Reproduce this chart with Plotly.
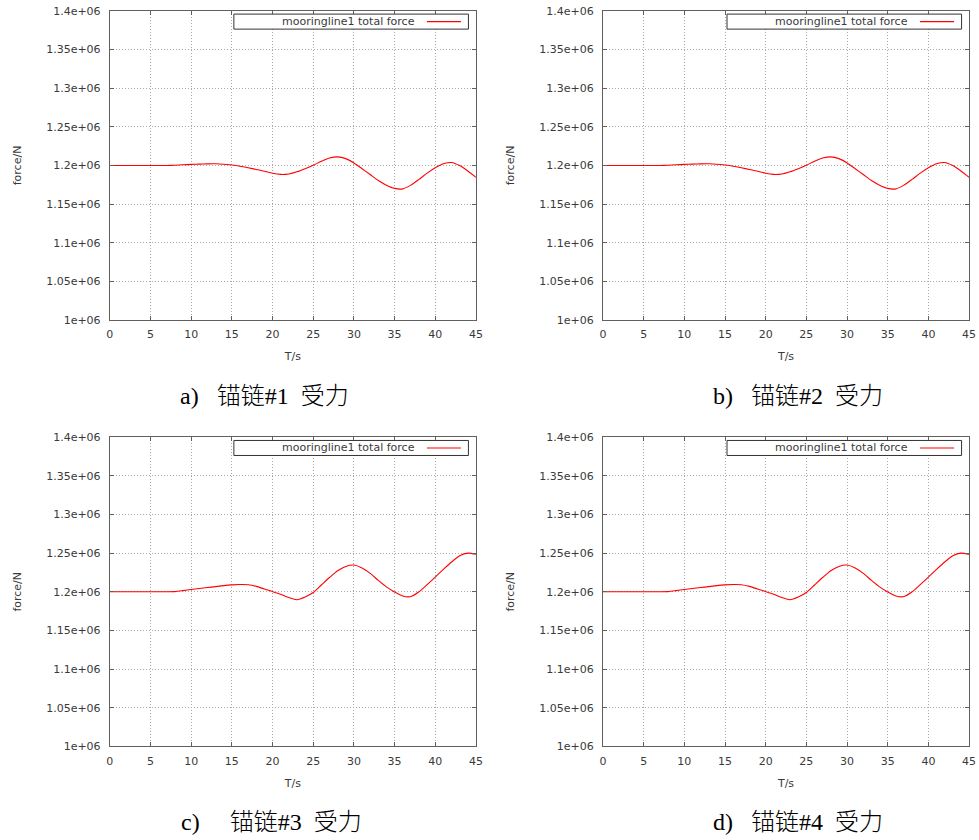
import plotly.graph_objects as go

# ---------------- data ----------------
time_s = list(range(0, 46))

force_line1 = [1200000, 1200000, 1200000, 1200000, 1200000, 1200000, 1200000, 1200000,
               1200300, 1200800, 1201300, 1201700, 1202000, 1202100, 1201600, 1200500,
               1199000, 1197000, 1194800, 1192500, 1189800, 1188400, 1189000, 1191800,
               1195800, 1200200, 1205500, 1209500, 1211100, 1208800, 1203200, 1195800,
               1188200, 1180500, 1174500, 1170300, 1169700, 1174500, 1182000, 1190000,
               1197000, 1202200, 1203800, 1199800, 1192800, 1184500]

force_line2 = [1200000, 1200000, 1200000, 1200000, 1200000, 1200000, 1200000, 1200000,
               1200300, 1200800, 1201300, 1201700, 1202000, 1202100, 1201600, 1200500,
               1199000, 1197000, 1194800, 1192500, 1189800, 1188400, 1189000, 1191800,
               1195800, 1200200, 1205500, 1209500, 1211100, 1208800, 1203200, 1195800,
               1188200, 1180500, 1174500, 1170300, 1169700, 1174500, 1182000, 1190000,
               1197000, 1202200, 1203800, 1199800, 1192800, 1184500]

force_line3 = [1200000, 1200000, 1200000, 1200000, 1200000, 1200000, 1200000, 1200000,
               1200200, 1201500, 1203000, 1204300, 1205500, 1206700, 1208000, 1209000,
               1209500, 1209200, 1207000, 1203500, 1200300, 1196800, 1192500, 1189800,
               1193200, 1199000, 1208800, 1218500, 1227300, 1232800, 1234600, 1230800,
               1223800, 1214800, 1206400, 1199800, 1194600, 1193800, 1200000, 1209300,
               1219000, 1229000, 1238500, 1246500, 1250000, 1248500]

force_line4 = [1200000, 1200000, 1200000, 1200000, 1200000, 1200000, 1200000, 1200000,
               1200200, 1201500, 1203000, 1204300, 1205500, 1206700, 1208000, 1209000,
               1209500, 1209200, 1207000, 1203500, 1200300, 1196800, 1192500, 1189800,
               1193200, 1199000, 1208800, 1218500, 1227300, 1232800, 1234600, 1230800,
               1223800, 1214800, 1206400, 1199800, 1194600, 1193800, 1200000, 1209300,
               1219000, 1229000, 1238500, 1246500, 1250000, 1248500]

x_ticks = [0, 5, 10, 15, 20, 25, 30, 35, 40, 45]
y_ticks = [1000000, 1050000, 1100000, 1150000, 1200000, 1250000, 1300000, 1350000, 1400000]
y_tick_labels = ["1e+06", "1.05e+06", "1.1e+06", "1.15e+06", "1.2e+06",
                 "1.25e+06", "1.3e+06", "1.35e+06", "1.4e+06"]

series_name = "mooringline1 total force"
NB = "\u00a0"
captions = ["a)" + NB * 3 + "锚链#1" + NB * 2 + "受力",
            "b)" + NB * 3 + "锚链#2" + NB * 2 + "受力",
            "c)" + NB * 5 + "锚链#3" + NB * 2 + "受力",
            "d)" + NB * 3 + "锚链#4" + NB * 2 + "受力"]

# ---------------- layout helpers ----------------
W, H = 979, 840
# small correction so the photographed page lands on the reference pixels
SX, AX = 0.9895, 3.2
SY, AY = 0.9837, 6.2
def px_x(v):
    return ((v - AX) / SX) / W
def px_y(v):
    return 1 - ((v - AY) / SY) / H

# plot boxes in target pixels: (left, right, top, bottom)
boxes = [(110, 476, 11, 320), (603, 969, 11, 320),
         (110, 476, 437, 746), (603, 969, 437, 746)]
caption_pos = [(265, 396), (798, 396), (272, 822), (798, 822)]

all_series = [force_line1, force_line2, force_line3, force_line4]

fig = go.Figure()
txt_col = "#3a3a3a"
tick_font = dict(family="DejaVu Sans", size=11, color=txt_col)
axis_col = "#606060"

shapes = []
annotations = []
for i, (ys, box) in enumerate(zip(all_series, boxes)):
    n = "" if i == 0 else str(i + 1)
    xa = "x" + n
    ya = "y" + n
    fig.add_trace(go.Scatter(x=time_s, y=ys, mode="lines", name=series_name,
                             line=dict(color="#ff0000", width=1.1, shape="spline", smoothing=0.7),
                             xaxis=xa, yaxis=ya, showlegend=False, hoverinfo="skip"))
    l, r, t, b = box
    common = dict(showgrid=True, gridcolor="#a8a8a8", griddash="1px,2px", gridwidth=1,
                  showline=True, linecolor=axis_col, linewidth=1, mirror="ticks",
                  ticks="inside", ticklen=4, tickcolor=axis_col, tickfont=tick_font,
                  zeroline=False, title_font=dict(family="DejaVu Sans", size=11, color=txt_col))
    fig.layout["xaxis" + n] = dict(domain=[px_x(l), px_x(r)], range=[0, 45],
                                   tickvals=x_ticks, anchor=ya, ticklabelstandoff=4,
                                   title=dict(text="T/s", standoff=12), **common)
    fig.layout["yaxis" + n] = dict(domain=[px_y(b), px_y(t)], range=[1000000, 1400000],
                                   tickvals=y_ticks, ticktext=y_tick_labels, anchor=xa,
                                   ticklabelstandoff=6,
                                   title=dict(text="force/N", standoff=22), **common)
    # legend box drawn gnuplot-style (text then sample line)
    dx, dy = l - 110, t - 11
    shapes.append(dict(type="rect", xref="paper", yref="paper",
                       x0=px_x(234 + dx), x1=px_x(468.5 + dx),
                       y0=px_y(29.3 + dy), y1=px_y(14.3 + dy),
                       line=dict(color="#333333", width=1), fillcolor="white", layer="above"))
    shapes.append(dict(type="line", xref="paper", yref="paper",
                       x0=px_x(427 + dx), x1=px_x(461 + dx),
                       y0=px_y(21.8 + dy), y1=px_y(21.8 + dy),
                       line=dict(color="#ff0000", width=1.1), layer="above"))
    annotations.append(dict(text=series_name, xref="paper", yref="paper",
                            x=px_x(417 + dx), y=px_y(21.8 + dy), xanchor="right", yanchor="middle",
                            showarrow=False, font=dict(family="DejaVu Sans", size=11, color=txt_col)))
    cx, cy = caption_pos[i]
    annotations.append(dict(text=captions[i], xref="paper", yref="paper",
                            x=px_x(cx), y=px_y(cy), xanchor="center", yanchor="middle",
                            showarrow=False,
                            font=dict(family="Liberation Serif, Noto Sans CJK SC", size=24,
                                      color="#000000", weight=300)))

fig.update_layout(width=W, height=H, margin=dict(l=0, r=0, t=0, b=0),
                  paper_bgcolor="white", plot_bgcolor="white", hovermode=False,
                  shapes=shapes, annotations=annotations, showlegend=False)

fig.write_html("out.html", config={"displayModeBar": False},
               post_script="document.body.style.margin='0';"
                           "document.documentElement.style.overflow='hidden';"
                           "document.body.style.overflow='hidden';")
